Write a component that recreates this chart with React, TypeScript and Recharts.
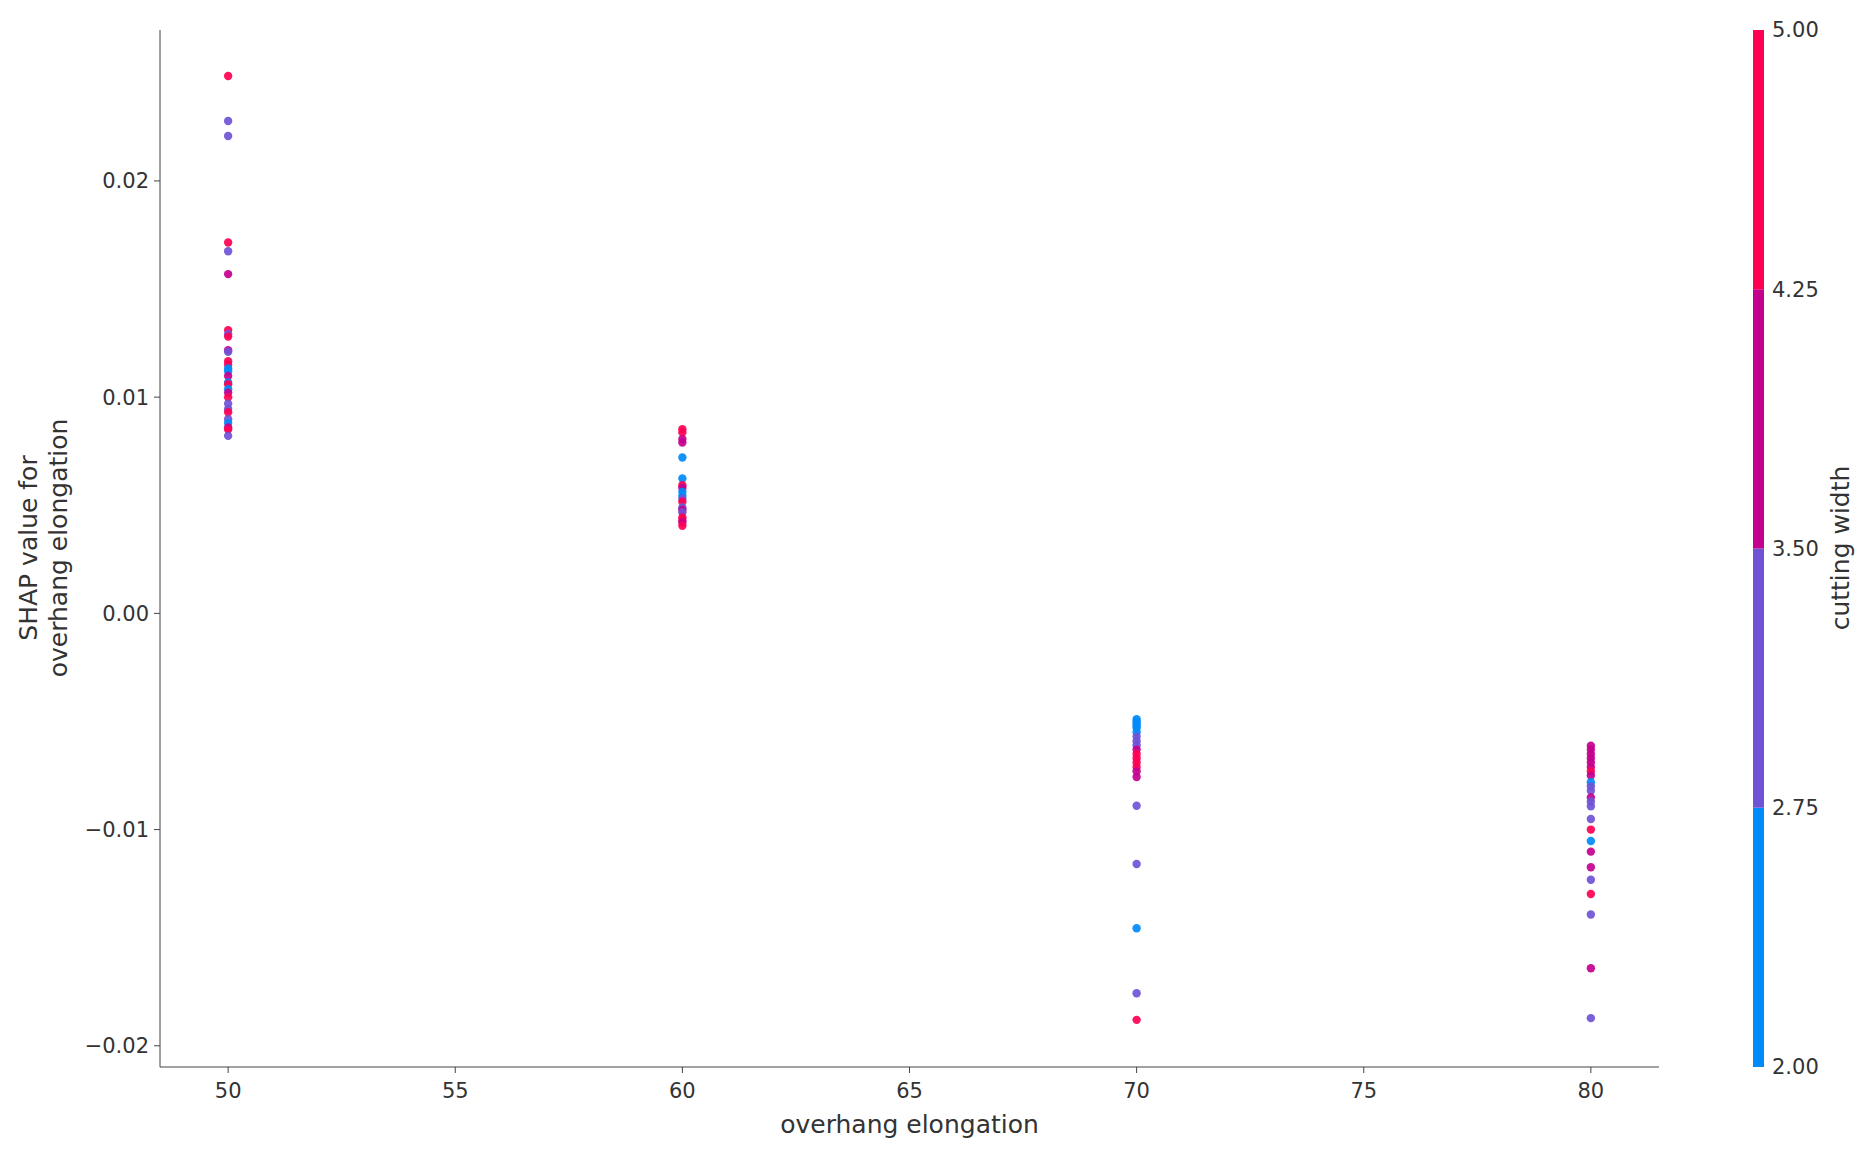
import { ScatterChart, Scatter, XAxis, YAxis, BarChart, Bar } from 'recharts'

// SHAP dependence values, one array per overhang elongation level
const shap50 = [0.02485, 0.02277, 0.02208, 0.01715, 0.01675, 0.01569, 0.0131, 0.01291, 0.0128, 0.01217, 0.0121, 0.01166, 0.0115, 0.01133, 0.0112, 0.01098, 0.01068, 0.0106, 0.01037, 0.0102, 0.00999, 0.0097, 0.00945, 0.0093, 0.00898, 0.0088, 0.0086, 0.0085, 0.00821]
const width50 = [5, 3, 3, 5, 3, 4, 5, 3, 5, 4, 3, 5, 5, 2, 2, 4, 2, 5, 2, 4, 5, 3, 3, 5, 3, 2, 4, 5, 3]

const shap60 = [0.00852, 0.00837, 0.00806, 0.0079, 0.00721, 0.00624, 0.00593, 0.0058, 0.00562, 0.00544, 0.0053, 0.00516, 0.0049, 0.00478, 0.00467, 0.00444, 0.00432, 0.00421, 0.00405]
const width60 = [5, 5, 4, 4, 2, 2, 5, 4, 2, 2, 3, 5, 3, 4, 3, 5, 5, 4, 5]

const shap70 = [-0.00489, -0.005, -0.0051, -0.0052, -0.0053, -0.0055, -0.0057, -0.0059, -0.0061, -0.0063, -0.0065, -0.0067, -0.0069, -0.0071, -0.0073, -0.00757, -0.0089, -0.01159, -0.01456, -0.01757, -0.0188]
const width70 = [2, 2, 2, 2, 2, 2, 3, 3, 3, 4, 5, 5, 5, 5, 4, 4, 3, 3, 2, 3, 5]

const shap80 = [-0.00612, -0.0063, -0.0065, -0.0067, -0.0069, -0.0071, -0.0073, -0.0075, -0.00781, -0.008, -0.0082, -0.00851, -0.0087, -0.00892, -0.00951, -0.01, -0.01053, -0.01102, -0.01174, -0.01232, -0.01298, -0.01393, -0.01641, -0.01872]
const width80 = [4, 4, 4, 4, 4, 4, 5, 4, 2, 3, 3, 4, 3, 3, 3, 5, 2, 4, 4, 3, 5, 3, 4, 3]

const xTicks = [50, 55, 60, 65, 70, 75, 80]
const yTicks = [-0.02, -0.01, 0, 0.01, 0.02]

// discrete colour bar for cutting width
const cbBounds = [2, 2.75, 3.5, 4.25, 5]
const cbColors = ['#008bfb', '#6f52d6', '#c4008e', '#ff0052']

const colorFor = (w: number) => {
  for (let i = 0; i < cbColors.length; i++) {
    if (w <= cbBounds[i + 1]) return cbColors[i]
  }
  return cbColors[cbColors.length - 1]
}

const toPoints = (x: number, ys: number[], ws: number[]) =>
  ys.map((y, i) => ({ x, y, w: ws[i] }))

const points = [
  ...toPoints(50, shap50, width50),
  ...toPoints(60, shap60, width60),
  ...toPoints(70, shap70, width70),
  ...toPoints(80, shap80, width80)
]

const cbRow: Record<string, number | string> = { name: 'cb', base: cbBounds[0] }
cbColors.forEach((_, i) => {
  cbRow[`seg${i}`] = cbBounds[i + 1] - cbBounds[i]
})

const FONT = '"DejaVu Sans", sans-serif'
const fmt = (v: number) => {
  const s = Math.abs(v).toFixed(2)
  return v < -1e-9 ? `\u2212${s}` : s
}

const Dot = (props: any) => {
  const { cx, cy, payload } = props
  return <circle cx={cx} cy={cy} r={4.2} fill={colorFor(payload.w)} fillOpacity={0.92} />
}

const YLabel = () => (
  <g fontFamily={FONT} fontSize={25} fill="#333">
    <text x={28} y={548} transform="rotate(-90 28 548)" textAnchor="middle" dominantBaseline="central">
      SHAP value for
    </text>
    <text x={58} y={548} transform="rotate(-90 58 548)" textAnchor="middle" dominantBaseline="central">
      overhang elongation
    </text>
  </g>
)

const CbLabel = () => (
  <text x={100} y={548} transform="rotate(-90 100 548)" textAnchor="middle" dominantBaseline="central"
    fontFamily={FONT} fontSize={25} fill="#333">
    cutting width
  </text>
)

export default function App() {
  return (
    <div style={{ position: 'absolute', left: 0, top: 0, width: 1874, height: 1157, background: '#fff' }}>
      <div style={{ position: 'absolute', left: 0, top: 0 }}>
        <ScatterChart width={1700} height={1157} margin={{ top: 30, right: 41, bottom: 0, left: 0 }}>
          <XAxis
            type="number"
            dataKey="x"
            domain={[48.5, 81.5]}
            ticks={xTicks}
            height={90}
            stroke="#444"
            tickSize={6}
            tickMargin={10}
            tick={{ fontSize: 21, fill: '#333', fontFamily: FONT }}
            label={{ value: 'overhang elongation', position: 'insideBottom', offset: 24, fontSize: 25, fill: '#333', fontFamily: FONT }}
          />
          <YAxis
            type="number"
            dataKey="y"
            domain={[-0.02098, 0.02698]}
            ticks={yTicks}
            width={160}
            stroke="#444"
            tickSize={6}
            tickMargin={5}
            tickFormatter={fmt}
            tick={{ fontSize: 21, fill: '#333', fontFamily: FONT }}
            label={<YLabel />}
          />
          <Scatter data={points} shape={<Dot />} isAnimationActive={false} />
        </ScatterChart>
      </div>
      <div style={{ position: 'absolute', left: 1740, top: 0 }}>
        <BarChart width={134} height={1157} data={[cbRow]} margin={{ top: 30, right: 0, bottom: 90, left: 13 }} barCategoryGap={0}>
          <XAxis dataKey="name" hide />
          <YAxis
            orientation="right"
            type="number"
            domain={[2, 5]}
            allowDataOverflow
            ticks={cbBounds}
            width={110}
            axisLine={false}
            tickLine={false}
            tickSize={0}
            tickMargin={8}
            tickFormatter={(v: number) => v.toFixed(2)}
            tick={{ fontSize: 21, fill: '#333', fontFamily: FONT, textAnchor: 'start' }}
            label={<CbLabel />}
          />
          <Bar dataKey="base" stackId="cb" fill="transparent" isAnimationActive={false} />
          {cbColors.map((c, i) => (
            <Bar key={c} dataKey={`seg${i}`} stackId="cb" fill={c} isAnimationActive={false} />
          ))}
        </BarChart>
      </div>
    </div>
  )
}
